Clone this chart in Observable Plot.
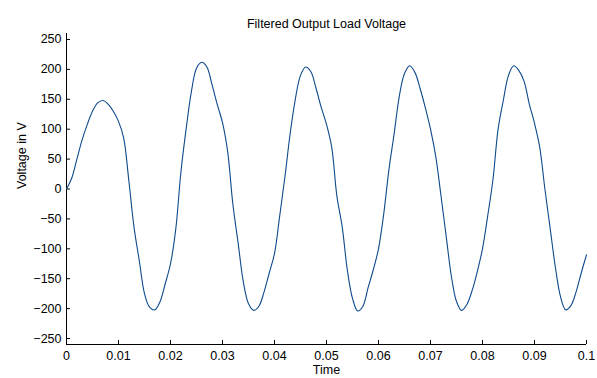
<!DOCTYPE html>
<html>
<head>
<meta charset="utf-8">
<script src="https://cdn.jsdelivr.net/npm/d3@7"></script>
<script src="https://cdn.jsdelivr.net/npm/@observablehq/plot@0.6"></script>
<style>
  html, body { margin: 0; padding: 0; background: #fff; }
  #chart { width: 597px; height: 378px; }
</style>
</head>
<body>
<div id="chart"></div>
<script>
const title = "Filtered Output Load Voltage";
const xLabel = "Time";
const yLabel = "Voltage in V";
const xTicks = [0, 0.01, 0.02, 0.03, 0.04, 0.05, 0.06, 0.07, 0.08, 0.09, 0.1];
const xTickLabels = ["0", "0.01", "0.02", "0.03", "0.04", "0.05", "0.06", "0.07", "0.08", "0.09", "0.1"];
const yTicks = [-250, -200, -150, -100, -50, 0, 50, 100, 150, 200, 250];
const xDomain = [0, 0.1];
const yDomain = [-260, 260];

// sample times (s)
const time = [
  0, 0.001, 0.002, 0.003, 0.004, 0.005, 0.006, 0.007, 0.008, 0.009,
  0.010, 0.011, 0.012, 0.013, 0.014, 0.015, 0.016, 0.017, 0.018, 0.019,
  0.020, 0.021, 0.022, 0.023, 0.024, 0.025, 0.026, 0.027, 0.028, 0.029,
  0.030, 0.031, 0.032, 0.033, 0.034, 0.035, 0.036, 0.037, 0.038, 0.039,
  0.040, 0.041, 0.042, 0.043, 0.044, 0.045, 0.046, 0.047, 0.048, 0.049,
  0.050, 0.051, 0.052, 0.053, 0.054, 0.055, 0.056, 0.057, 0.058, 0.059,
  0.060, 0.061, 0.062, 0.063, 0.064, 0.065, 0.066, 0.067, 0.068, 0.069,
  0.070, 0.071, 0.072, 0.073, 0.074, 0.075, 0.076, 0.077, 0.078, 0.079,
  0.080, 0.081, 0.082, 0.083, 0.084, 0.085, 0.086, 0.087, 0.088, 0.089,
  0.090, 0.091, 0.092, 0.093, 0.094, 0.095, 0.096, 0.097, 0.098, 0.099,
  0.100
];
// load voltage (V)
const voltage = [
  0, 18, 50, 82, 108, 130, 144, 148, 142, 130,
  113, 85, 13, -65, -120, -175, -198, -202, -188, -158,
  -125, -68, 28, 100, 162, 202, 212, 204, 174, 141,
  111, 62, -26, -90, -155, -192, -203, -196, -172, -140,
  -108, -45, 20, 92, 150, 190, 204, 196, 168, 136,
  108, 70, -12, -62, -135, -183, -204, -196, -165, -135,
  -100, -42, 32, 92, 155, 193, 206, 195, 168, 136,
  100, 55, -10, -78, -145, -188, -203, -193, -170, -138,
  -100, -45, 15, 100, 148, 190, 206, 198, 180, 142,
  110, 70, 0, -65, -130, -180, -202, -195, -172, -140,
  -110
];

const data = time.map((t, i) => ({t, v: voltage[i]}));
const fmt = new Map(xTicks.map((t, i) => [t, xTickLabels[i]]));

const W = 597, H = 378, mL = 66, mR = 11, mT = 33, mB = 34, tick = 4;
const plotW = W - mL - mR, plotH = H - mT - mB;

const chart = Plot.plot({
  width: W,
  height: H,
  marginLeft: mL,
  marginRight: mR,
  marginTop: mT,
  marginBottom: mB,
  style: {fontFamily: "'Liberation Sans', Arial, sans-serif", fontSize: "12.5px", color: "#000", background: "#fff"},
  x: {domain: xDomain},
  y: {domain: yDomain},
  marks: [
    Plot.axisX(xTicks, {tickSize: 0, tickPadding: 7, tickFormat: d => fmt.get(d), label: null, fontSize: 12.5}),
    Plot.axisY(yTicks, {tickSize: 0, tickPadding: 5, label: null, fontSize: 12.5}),
    Plot.tickX(xTicks, {x: d => d, insetTop: plotH - tick, stroke: "#000", strokeWidth: 1}),
    Plot.tickY(yTicks, {y: d => d, insetRight: plotW - tick, stroke: "#000", strokeWidth: 1}),
    Plot.ruleX([xDomain[0]], {stroke: "#000"}),
    Plot.ruleY([yDomain[0]], {stroke: "#000"}),
    Plot.line(data, {x: "t", y: "v", stroke: "#0e4a8c", strokeWidth: 1.1, curve: "catmull-rom"}),
    Plot.text([title], {frameAnchor: "top", dy: -14, fontSize: 12.5, fill: "#000"}),
    Plot.text([xLabel], {frameAnchor: "bottom", dy: 29, fontSize: 12.5, fill: "#000"}),
    Plot.text([yLabel], {frameAnchor: "left", dx: -45, rotate: -90, fontSize: 12.5, fill: "#000"})
  ]
});
document.getElementById("chart").appendChild(chart);
</script>
</body>
</html>
